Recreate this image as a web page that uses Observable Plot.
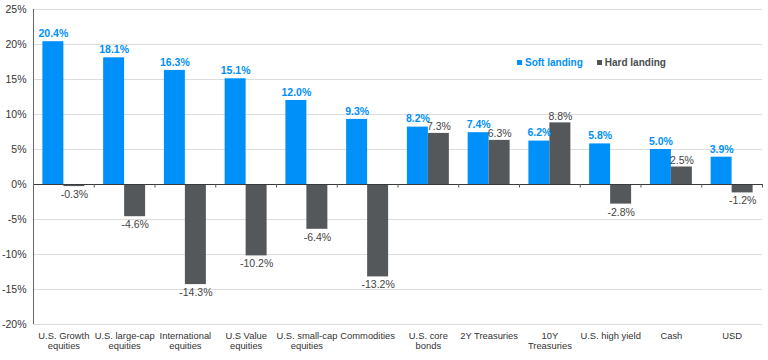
<!DOCTYPE html>
<html>
<head>
<meta charset="utf-8">
<script src="https://cdn.jsdelivr.net/npm/d3@7"></script>
<script src="https://cdn.jsdelivr.net/npm/@observablehq/plot@0.6"></script>
<style>
  body { margin: 0; background: #fff; font-family: "Liberation Sans", Arial, sans-serif; }
  #wrap { position: relative; width: 768px; height: 360px; }
  #legend { position: absolute; left: 517px; top: 57px; font-size: 10px; font-weight: bold; display: flex; gap: 14px; }
  #legend span { display: inline-flex; align-items: center; }
  #legend i { display: inline-block; width: 5px; height: 5px; margin-right: 3px; }
</style>
</head>
<body>
<div id="wrap">
  <div id="legend">
    <span style="color:#0090FA"><i style="background:#0090FA"></i>Soft landing</span>
    <span style="color:#4A4D50"><i style="background:#505457"></i>Hard landing</span>
  </div>
</div>
<script>
const categories = ["U.S. Growth\nequities", "U.S. large-cap\nequities", "International\nequities", "U.S Value\nequities", "U.S. small-cap\nequities", "Commodities", "U.S. core\nbonds", "2Y Treasuries", "10Y\nTreasuries", "U.S. high yield", "Cash", "USD"];
const softLanding = [20.4, 18.1, 16.3, 15.1, 12.0, 9.3, 8.2, 7.4, 6.2, 5.8, 5.0, 3.9];
const hardLanding = [-0.3, -4.6, -14.3, -10.2, -6.4, -13.2, 7.3, 6.3, 8.8, -2.8, 2.5, -1.2];
const yTicks = [-20, -15, -10, -5, 0, 5, 10, 15, 20, 25];

const soft = categories.map((c, i) => ({cat: c, v: softLanding[i]}));
const hard = categories.map((c, i) => ({cat: c, v: hardLanding[i]}));

const blue = "#0090FA";
const grey = "#54585A";
const half = 729 / 12 / 2;

const chart = Plot.plot({
  width: 768,
  height: 360,
  marginLeft: 33,
  marginRight: 6,
  marginTop: 9,
  marginBottom: 36,
  style: {fontFamily: "Liberation Sans, Arial, sans-serif", fontSize: "10px", color: "#333", background: "#fff"},
  x: {domain: categories, paddingInner: 0.309, paddingOuter: 0.1545, round: false, label: null},
  y: {domain: [-20, 25], label: null},
  marks: [
    Plot.ruleY(yTicks, {stroke: "#DCDCDC", strokeWidth: 1.2}),
    Plot.barY(soft, {x: "cat", y: "v", fill: blue, insetRight: 21, insetLeft: 0}),
    Plot.barY(hard, {x: "cat", y: "v", fill: grey, insetLeft: 21, insetRight: 0}),
    Plot.ruleY([0], {stroke: "#3A3A3A", strokeWidth: 1}),
    Plot.ruleX(categories, {x: d => d, dx: half, y1: 0, y2: -0.5, stroke: "#555"}),
    Plot.ruleX([categories[0]], {x: d => d, dx: -half, y1: -20, y2: 25, stroke: "#666", strokeWidth: 1}),
    Plot.text(soft, {x: "cat", y: "v", text: d => d.v.toFixed(1) + "%", dx: -10.5, dy: -8, fill: blue, fontWeight: "bold", fontSize: 10.5}),
    Plot.text(hard, {x: "cat", y: "v", text: d => d.v.toFixed(1) + "%", dx: 10.5, lineAnchor: "bottom", fill: "#444", fontSize: 10.5, filter: d => d.v >= 0, dy: -3}),
    Plot.text(hard, {x: "cat", y: "v", text: d => d.v.toFixed(1) + "%", dx: 10.5, lineAnchor: "top", dy: 4, fill: "#444", fontSize: 10.5, filter: d => d.v < 0}),
    Plot.axisY({ticks: yTicks, tickFormat: d => d + "%", tickSize: 0, tickPadding: 7, fontSize: 10.5, fill: "#333"}),
    Plot.axisX({tickSize: 0, tickPadding: 7, fontSize: 9.4, fill: "#333", lineHeight: 1.06})
  ]
});
document.getElementById("wrap").prepend(chart);
</script>
</body>
</html>
